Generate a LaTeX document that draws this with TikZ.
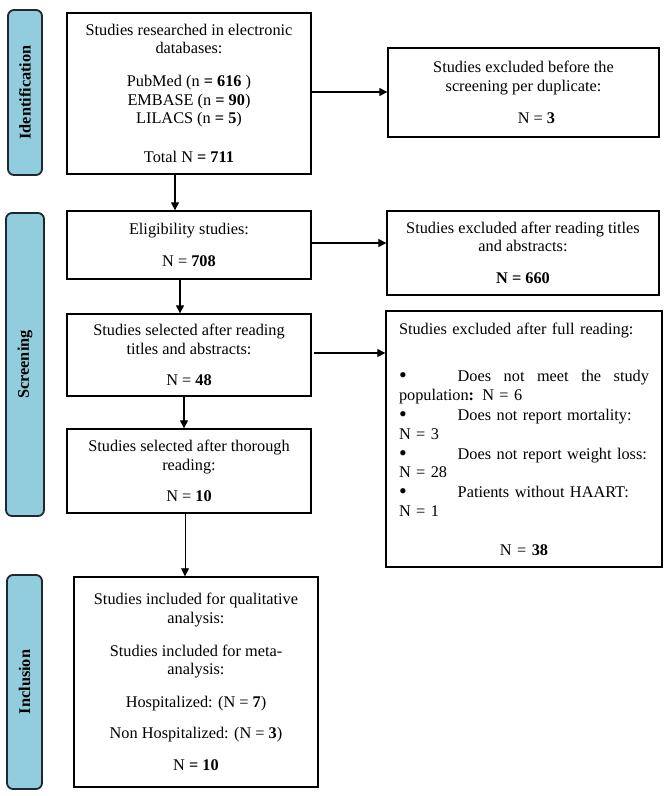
\documentclass[tikz,border=0pt]{standalone}
\usepackage{fontspec}
\setmainfont{Liberation Serif}
\usetikzlibrary{arrows.meta}
\definecolor{labfill}{RGB}{146,205,221}
\definecolor{labdraw}{RGB}{30,40,50}
\newcommand{\bul}{{\fontsize{22}{18}\selectfont\raisebox{-1pt}{\textbullet}}}
\tikzset{
  box/.style={draw=black, line width=1.4pt, inner sep=0pt, align=center,
    font=\fontsize{16.3}{18.5}\selectfont},
  sidelab/.style={draw=labdraw, fill=labfill, line width=1.8pt, rounded corners=6pt,
    inner sep=0pt},
  labtext/.style={rotate=90, font=\fontsize{16.3}{18.5}\selectfont\bfseries},
  arr/.style={line width=1.3pt, -{Triangle[length=8pt,width=8pt]}},
  thinarr/.style={line width=0.8pt, -{Triangle[length=8pt,width=8pt]}}
}
\begin{document}
\begin{tikzpicture}[x=1pt,y=-1pt]
\useasboundingbox (0,0) rectangle (669,796);
% side labels
\node[sidelab, minimum width=34pt, minimum height=165pt] (lid) at (25,92.5) {};
\node[labtext] (lidt) at (lid.center) {Identification};
\node[sidelab, minimum width=38pt, minimum height=303pt] (lsc) at (25,364.5) {};
\node[labtext] (lsct) at (lsc.center) {Screening};
\node[sidelab, minimum width=35pt, minimum height=214pt] (lin) at (24.5,682) {};
\node[labtext] (lint) at (lin.center) {Inclusion};
% boxes
\node[box, minimum width=244pt, minimum height=161pt] (b1) at (189,93.5)
 {Studies researched in electronic\\ databases:\\[14.5pt]
  PubMed (n \textbf{= 616} )\\ EMBASE (n \textbf{= 90})\\ LILACS (n \textbf{= 5})\\[20.5pt]
  Total N \textbf{= 711}};
\node[box, minimum width=271pt, minimum height=89pt] (b2) at (523.5,92.5)
 {Studies excluded before the\\ screening per duplicate:\\[13.5pt]
  \hspace*{26pt}N = \textbf{3}};
\node[box, minimum width=244pt, minimum height=68pt] (b3) at (189,245)
 {Eligibility studies:\\[13.5pt] N = \textbf{708}};
\node[box, minimum width=272pt, minimum height=84pt] (b4) at (523,253)
 {Studies excluded after reading titles\\ and abstracts:\\[13.5pt] \textbf{N = 660}};
\node[box, minimum width=244pt, minimum height=82pt] (b5) at (189,355)
 {Studies selected after reading\\ titles and abstracts:\\[12.5pt] N = \textbf{48}};
\node[box, minimum width=244pt, minimum height=84pt] (b6) at (189,471)
 {Studies selected after thorough\\ reading:\\[12.5pt] N = \textbf{10}};
\node[box, minimum width=276pt, minimum height=256pt, text width=250pt, align=left] (b7) at (524,439)
 {Studies excluded after full reading:\\[28.5pt]
  \makebox[250pt][l]{\bul\hspace{51pt}Does\hfill not\hfill meet\hfill the\hfill study}\\[0.5pt]
  population\textbf{:} N = 6\\[1.5pt]
  \bul\hspace{51pt}Does not report mortality:\\[0.5pt]
  N = 3\\[1.5pt]
  \bul\hspace{51pt}Does not report weight loss:\\
  N = 28\\[1.5pt]
  \bul\hspace{51pt}Patients without HAART:\\
  N = 1\\[20.5pt]
  \makebox[250pt]{N = \textbf{38}}};
\node[box, minimum width=244pt, minimum height=210pt] (b8) at (196,682)
 {Studies included for qualitative\\ analysis:\\[14.5pt]
  Studies included for meta-\\ analysis:\\[14.5pt]
  Hospitalized: (N = \textbf{7})\\[12.5pt]
  Non Hospitalized: (N = \textbf{3})\\[13.5pt]
  N \textbf{= 10}};
% connectors
\draw[arr] ([xshift=-14pt]b1.south) -- ([xshift=-14pt]b3.north);
\draw[arr] ([xshift=-9pt]b3.south) -- ([xshift=-9pt]b5.north);
\draw[arr] ([xshift=-5pt]b5.south) -- ([xshift=-5pt]b6.north);
\draw[thinarr] ([xshift=-4pt]b6.south) -- ([xshift=-4pt]b6.south |- b8.north);
\draw[arr] ([yshift=1.5pt]b1.east) -- ([yshift=1.5pt]b1.east -| b2.west);
\draw[arr] ([yshift=2pt]b3.east) -- ([yshift=2pt]b3.east -| b4.west);
\draw[arr] ([xshift=2pt,yshift=2pt]b5.east) -- ([yshift=2pt]b5.east -| b7.west);
\end{tikzpicture}
\end{document}
